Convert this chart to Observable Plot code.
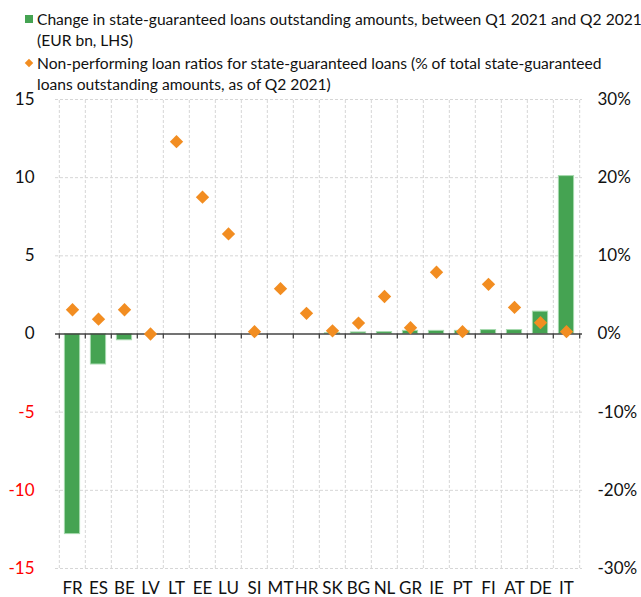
<!DOCTYPE html>
<html><head><meta charset="utf-8">
<script src="https://cdn.jsdelivr.net/npm/d3@7"></script>
<script src="https://cdn.jsdelivr.net/npm/@observablehq/plot@0.6"></script>
<style>
body{margin:0;background:#fff;font-family:Lato,sans-serif;}
#legend{position:relative;height:80px;width:641px;font-size:15.6px;color:#111;line-height:21px;}
#legend .item{position:absolute;left:37px;white-space:nowrap;}
#legend .sq{position:absolute;left:-12px;top:6px;width:8px;height:8px;background:#45a352;}
#legend .dm{position:absolute;left:-11px;top:7px;width:6px;height:6px;background:#f28d21;transform:rotate(45deg);}
</style></head><body>
<div id="legend">
  <div class="item" style="top:9px"><span class="sq"></span>Change in state-guaranteed loans outstanding amounts, between Q1 2021 and Q2 2021<br>(EUR bn, LHS)</div>
  <div class="item" style="top:53px"><span class="dm"></span>Non-performing loan ratios for state-guaranteed loans (% of total state-guaranteed<br>loans outstanding amounts, as of Q2 2021)</div>
</div>
<div id="chart"></div>
<script>
const categories = ["FR","ES","BE","LV","LT","EE","LU","SI","MT","HR","SK","BG","NL","GR","IE","PT","FI","AT","DE","IT"];
const loanChange = [-12.8,-1.95,-0.4,0,0,0,0,0,0,0,0.05,0.1,0.12,0.2,0.2,0.2,0.25,0.25,1.43,10.1];
const nplRatio = [3.1,1.9,3.1,0,24.6,17.5,12.8,0.3,5.8,2.65,0.4,1.4,4.8,0.8,7.9,0.3,6.35,3.4,1.45,0.3];
const leftTicks = [-15,-10,-5,0,5,10,15];
const rightTicks = [-30,-20,-10,0,10,20,30];
const gridTicks = [-15,-10,-5,5,10,15];

const rows = categories.map((c,i)=>({country:c, change:loanChange[i], npl:nplRatio[i]}));
const pctToLeft = p => p / 2; // 30% on the right axis aligns with 15 on the left axis

const W = 641, ML = 55, MR = 59;
const step = (W - ML - MR) / categories.length; // band step (x padding is 0)
const lastCat = [categories[categories.length - 1]];

const chart = Plot.plot({
  width: W,
  height: 517,
  marginTop: 19,
  marginBottom: 29,
  marginLeft: ML,
  marginRight: MR,
  style: {fontFamily: "Lato, sans-serif", fontSize: "17px", color: "#111", background: "#fff"},
  x: {domain: categories, padding: 0, tickSize: 0, tickPadding: 13, label: null},
  y: {domain: [-15, 15], axis: null},
  marks: [
    Plot.ruleX(categories, {x: d => d, dx: -step / 2, y1: -15, y2: 15, stroke: "#d6d6d6", strokeDasharray: "3,2"}),
    Plot.ruleX(lastCat, {x: d => d, dx: step / 2, y1: -15, y2: 15, stroke: "#d6d6d6", strokeDasharray: "3,2"}),
    Plot.ruleY(gridTicks, {stroke: "#d6d6d6", strokeDasharray: "3,2"}),
    Plot.barY(rows, {x: "country", y: "change", fill: "#45a352", stroke: "#a6d9ad", strokeWidth: 1, insetLeft: 5.4, insetRight: 5.4}),
    Plot.ruleY([0], {stroke: "#444", strokeWidth: 1.5}),
    Plot.ruleX(categories, {x: d => d, dx: -step / 2, y1: 0, y2: -0.32, stroke: "#444", strokeWidth: 1.3}),
    Plot.ruleX(lastCat, {x: d => d, dx: step / 2, y1: 0, y2: -0.32, stroke: "#444", strokeWidth: 1.3}),
    Plot.dot(rows, {x: "country", y: d => pctToLeft(d.npl), symbol: "diamond2", r: 6, fill: "#f28d21", stroke: "none"}),
    Plot.text(leftTicks.filter(d => d >= 0), {y: d => d, text: d => String(d), frameAnchor: "left", textAnchor: "end", dx: -21, fill: "#111", fontSize: 17}),
    Plot.text(leftTicks.filter(d => d < 0), {y: d => d, text: d => String(d), frameAnchor: "left", textAnchor: "end", dx: -21, fill: "#ff0000", fontSize: 17}),
    Plot.text(rightTicks, {y: d => pctToLeft(d), text: d => d + "%", frameAnchor: "right", textAnchor: "start", dx: 15, fill: "#111", fontSize: 17})
  ]
});
document.getElementById("chart").appendChild(chart);
</script>
</body></html>
